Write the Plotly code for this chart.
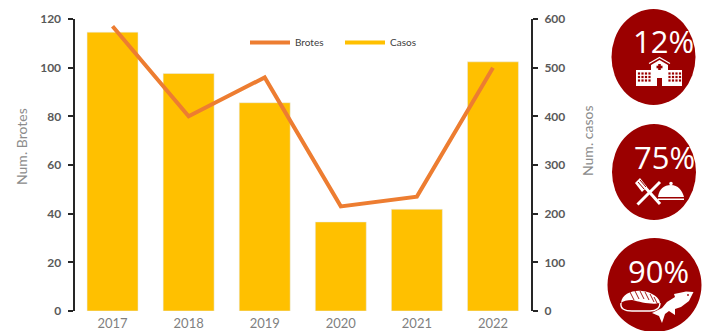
import plotly.graph_objects as go

W, H = 704, 331
years = ["2017", "2018", "2019", "2020", "2021", "2022"]
brotes = [117, 80, 96, 43, 47, 100]
casos = [573, 488, 428, 183, 209, 512]

shares = ["12%", "75%", "90%"]
RED = "#9b0000"
ORANGE = "#ed7d31"
GOLD = "#ffc000"
GREY = "#8c8c8c"
AXIS = "#262626"


def fx(x):
    return x / W


def fy(y):
    return 1 - y / H


def path(*commands):
    """Build an SVG path from page pixels, converted to paper coordinates."""
    out = []
    for c in commands:
        if c == "Z":
            out.append("Z")
            continue
        nums = c[1:]
        pairs = [f"{fx(nums[i]):.5f},{fy(nums[i + 1]):.5f}" for i in range(0, len(nums), 2)]
        out.append(c[0] + " ".join(pairs))
    return " ".join(out)


def poly(*pts):
    return path(("M", *pts[0]), *[("L", *p) for p in pts[1:]], "Z")


def rect(x0, y0, x1, y1, color="white"):
    return filled(poly((x0, y0), (x1, y0), (x1, y1), (x0, y1)), color)


def ellipse(cx, cy, rx, ry, color):
    return dict(type="circle", xref="paper", yref="paper",
                x0=fx(cx - rx), x1=fx(cx + rx), y0=fy(cy + ry), y1=fy(cy - ry),
                fillcolor=color, line=dict(width=0), layer="above")


def filled(d, color="white"):
    return dict(type="path", xref="paper", yref="paper", path=d,
                fillcolor=color, line=dict(width=0), layer="above")


def outline(d, width=1.3, color="white"):
    return dict(type="path", xref="paper", yref="paper", path=d,
                fillcolor="rgba(0,0,0,0)", line=dict(color=color, width=width), layer="above")


def stroke(x0, y0, x1, y1, width=2, color="white"):
    return dict(type="line", xref="paper", yref="paper",
                x0=fx(x0), y0=fy(y0), x1=fx(x1), y1=fy(y1),
                line=dict(color=color, width=width), layer="above")


shapes = [
    ellipse(653.5, 57, 42, 48, RED),
    ellipse(654, 172, 42, 48, RED),
    ellipse(654.5, 285, 47, 47, RED),
]

# hospital: wings, central block, chevron roof, windows and door
shapes += [
    rect(636, 70, 682, 86),
    filled(poly((651, 70), (651, 65), (659.5, 60), (668, 65), (668, 70))),
    outline(path(("M", 649, 63.5), ("L", 659.5, 57.5), ("L", 670, 63.5)), 1.2),
    rect(658.2, 64, 660.8, 70, RED), rect(656.5, 65.7, 662.5, 68.3, RED),
    rect(657, 78, 662, 86, RED),
]
for row in (73.5, 77, 80.5):
    for col in (639, 642.5, 646, 649.5, 669.5, 673, 676.5, 680):
        shapes.append(rect(col - 1.1, row - 1.1, col + 1.1, row + 1.1, RED))

# crossed spatula and knife beside a serving dome
shapes += [
    stroke(637.5, 204.5, 660, 182, 3), stroke(643, 185, 660, 204, 3),
    filled(poly((635, 183), (640, 178), (647, 187), (642, 192))),
    stroke(638, 182, 644, 189, 1, RED), stroke(640, 180, 646, 187, 1, RED),
    filled(path(("M", 658, 197), ("C", 659, 189, 664, 185, 671, 185),
                ("C", 678, 185, 682, 190, 684, 197), "Z")),
    ellipse(671, 183.5, 1.8, 1.8, "white"),
    rect(658, 198.5, 684, 200),
]

# nigiri and fish
shapes += [
    filled(path(("M", 621, 303), ("C", 622, 294, 632, 290, 642, 291),
                ("C", 652, 292, 660, 298, 660, 303),
                ("C", 652, 305, 640, 302, 632, 300), ("C", 627, 300, 623, 301, 621, 303), "Z")),
    outline(path(("M", 621, 303), ("C", 620, 309, 625, 311, 632, 311), ("L", 650, 311),
                 ("C", 656, 311, 660, 308, 660, 303)), 1.4),
]
for a, b in ((630, 292), (635, 291), (640, 291), (645, 292), (650, 294), (654, 297)):
    shapes.append(stroke(a, b, a + 4, b + 8, 0.9, RED))
shapes.append(filled(poly((693.5, 292), (686, 291.5), (679, 293), (674, 294), (675, 297), (667, 302),
                          (662, 308), (652, 313), (659, 316), (662, 323), (665, 314), (669, 311),
                          (675, 315), (675, 309), (681, 307), (689, 301))))
shapes.append(ellipse(688, 295, 0.9, 0.9, RED))

text_defaults = dict(xref="paper", yref="paper", showarrow=False, xanchor="center", yanchor="middle")
annotations = [
    dict(text=t, x=fx(x), y=fy(y), font=dict(family="Open Sans", size=31, color="white", weight=400), **text_defaults)
    for t, x, y in zip(shares, (663.5, 664, 658.5), (41, 157, 271))
]
annotations += [
    dict(text="Num. Brotes", x=fx(21), y=fy(147), textangle=-90,
         font=dict(family="Lato", size=14, color=GREY), **text_defaults),
    dict(text="Num. casos", x=fx(587), y=fy(141), textangle=-90,
         font=dict(family="Lato", size=14, color=GREY), **text_defaults),
]

fig = go.Figure()
fig.add_trace(go.Bar(x=years, y=casos, name="Casos", yaxis="y", marker=dict(color=GOLD),
                     width=0.67, showlegend=False))
fig.add_trace(go.Scatter(x=years, y=brotes, name="Brotes", yaxis="y2", mode="lines",
                         line=dict(color=ORANGE, width=4)))
# legend entry for the bars, drawn as a flat swatch
fig.add_trace(go.Scatter(x=[None], y=[None], name="Casos", yaxis="y2", mode="lines",
                         line=dict(color=GOLD, width=4)))

value_axis = dict(domain=[fy(311), fy(19)], anchor="x", showline=True, linecolor=AXIS, linewidth=2,
                  ticks="outside", ticklen=5, tickcolor=AXIS, tickwidth=2, ticklabelstandoff=4,
                  tickfont=dict(family="Lato", size=12, color="#595959", weight="bold"),
                  showgrid=False, zeroline=False)
fig.update_layout(
    width=W, height=H, margin=dict(l=0, r=0, t=0, b=0, autoexpand=False),
    paper_bgcolor="white", plot_bgcolor="white",
    xaxis=dict(domain=[fx(74.5), fx(531)], anchor="y", showline=False, ticks="", ticklabelstandoff=3,
               tickfont=dict(family="Lato", size=13, color="#7f7f7f"), showgrid=False),
    yaxis=dict(value_axis, range=[0, 600], dtick=100, side="right"),
    yaxis2=dict(value_axis, range=[0, 120], dtick=20, side="left", overlaying="y"),
    legend=dict(orientation="h", x=fx(245), y=fy(28), xanchor="left", yanchor="top", itemwidth=40,
                entrywidth=40, entrywidthmode="pixels",
                bgcolor="rgba(0,0,0,0)", font=dict(family="Lato", size=10, color="#404040")),
    shapes=shapes, annotations=annotations,
)
fig.write_html("out.html")
